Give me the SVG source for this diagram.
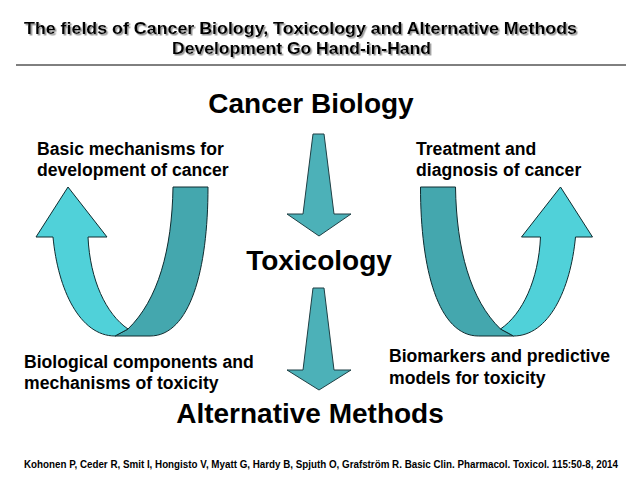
<svg xmlns="http://www.w3.org/2000/svg" width="638" height="479" viewBox="0 0 638 479">
<defs>
<style>
text{font-family:"Liberation Sans",Arial,sans-serif;font-weight:bold;fill:#000}
.title{font-size:16px;filter:url(#sh)}
.big{font-size:28px}
.lbl{font-size:17.6px}
.cite{font-size:10px}
.dn{fill:#4cb1b8;stroke:#1f3f44;stroke-width:1}
.lt{fill:#50d1d9;stroke:#0f2c30;stroke-width:1}
.dk{fill:#44a7ae;stroke:#0f2c30;stroke-width:1}
</style>
<filter id="sh" x="-5%" y="-30%" width="110%" height="160%">
<feDropShadow dx="1.5" dy="1.5" stdDeviation="0.7" flood-color="#888" flood-opacity="0.9"/>
</filter>
<g id="uarrow">
<path class="dk" d="M173,187 H208 C208,270 190,336 150,336 H115 L128,329 C158,300 172,250 173,187 Z"/>
<path class="lt" d="M128,329 C106,314 90,280 88,237 H107 L68,187 L36,237 H53 C58,290 80,336 115,336 Z"/>
</g>
</defs>
<rect width="638" height="479" fill="#fff"/>
<g id="title">
<text class="title" x="24" y="34" textLength="553" lengthAdjust="spacingAndGlyphs">The fields of Cancer Biology, Toxicology and Alternative Methods</text>
<text class="title" x="172" y="54" textLength="259" lengthAdjust="spacingAndGlyphs">Development Go Hand-in-Hand</text>
<line x1="16" y1="65" x2="626" y2="65" stroke="#000" stroke-width="1"/>
</g>
<g id="cancer-biology"><text class="big" x="311" y="113" text-anchor="middle">Cancer Biology</text></g>
<g id="toxicology"><text class="big" x="319" y="270" text-anchor="middle">Toxicology</text></g>
<g id="alternative-methods"><text class="big" x="310" y="423" text-anchor="middle">Alternative Methods</text></g>
<g id="basic-mechanisms"><text class="lbl" x="37" y="155">Basic mechanisms for</text><text class="lbl" x="37" y="176">development of cancer</text></g>
<g id="treatment"><text class="lbl" x="416" y="155">Treatment and</text><text class="lbl" x="416" y="176">diagnosis of cancer</text></g>
<g id="biological-components"><text class="lbl" x="24" y="368">Biological components and</text><text class="lbl" x="24" y="389">mechanisms of toxicity</text></g>
<g id="biomarkers"><text class="lbl" x="389" y="362">Biomarkers and predictive</text><text class="lbl" x="389" y="384">models for toxicity</text></g>
<g id="connectors">
<path class="dn" d="M313,134 H324 L334,214 H351 L319,236 L287,214 H303 Z"/>
<path class="dn" d="M313,288 H324 L334,370 H351 L319,390 L287,370 H303 Z"/>
<use href="#uarrow"/>
<use href="#uarrow" transform="translate(628.5,0) scale(-1,1)"/>
</g>
<g id="citation"><text class="cite" x="24" y="468" textLength="594" lengthAdjust="spacingAndGlyphs">Kohonen P, Ceder R, Smit I, Hongisto V, Myatt G, Hardy B, Spjuth O, Grafström R. Basic Clin. Pharmacol. Toxicol. 115:50-8, 2014</text></g>
</svg>
